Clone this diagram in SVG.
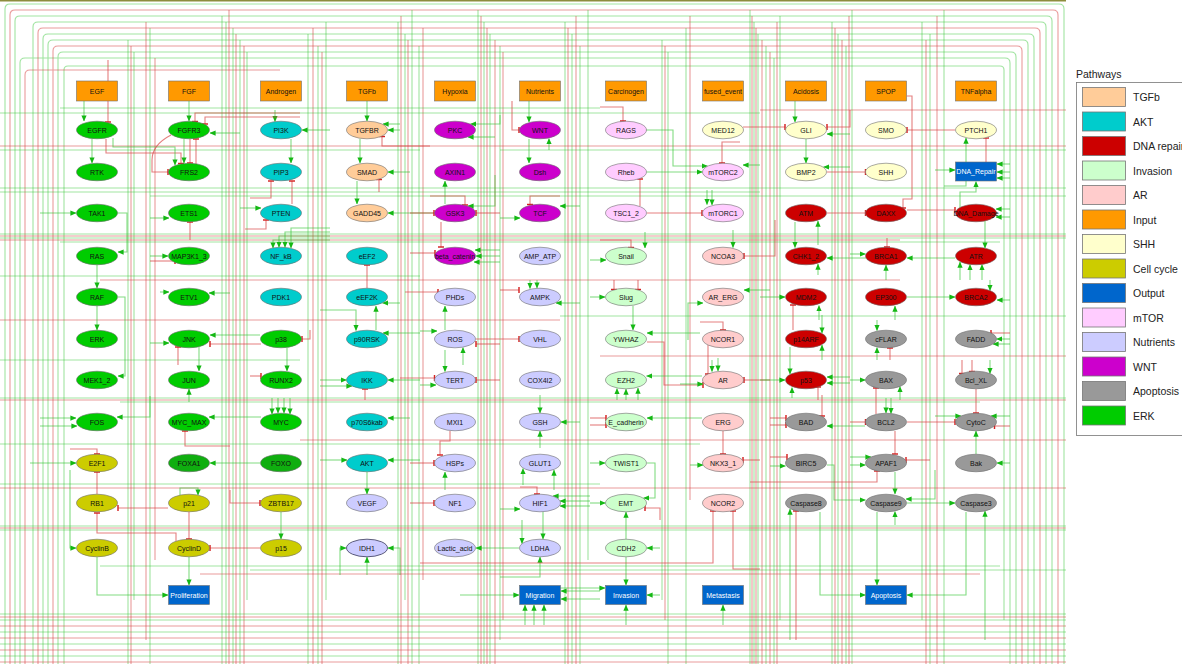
<svg xmlns="http://www.w3.org/2000/svg" width="1182" height="664" viewBox="0 0 1182 664">
<defs>
<style>
text{font-family:"Liberation Sans",Arial,Helvetica,sans-serif;font-size:7px;text-anchor:middle;fill:#111}
.n ellipse,.n rect{stroke:#6f6f6f;stroke-width:.6}
.erk{fill:#00cc00}.erk2{fill:#0fae0f}.akt{fill:#00cccc}.dna{fill:#cc0000}.inv{fill:#ccffcc}.ar{fill:#ffcccc}.inp{fill:#ff9900}.shh{fill:#ffffcc}.cc{fill:#cccc00}.out{fill:#0066cc}.mtor{fill:#ffccff}.nut{fill:#ccccff}.wnt{fill:#cc00cc}.apo{fill:#999999}.tgf{fill:#ffcc99}
.wt{fill:#fff}
.g{fill:none;stroke:#2ec42e;stroke-opacity:.45;stroke-width:1.1}
.r{fill:none;stroke:#d63a3a;stroke-opacity:.5;stroke-width:1.1}
.a{fill:none;stroke:#2ec42e;stroke-opacity:.6;stroke-width:1.1;marker-end:url(#ah)}
.i{fill:none;stroke:#d63a3a;stroke-opacity:.65;stroke-width:1.1;marker-end:url(#tb)}
.lg text{font-size:10.5px;text-anchor:start;fill:#222}
.lg rect{stroke:#777;stroke-width:.8}
</style>
<marker id="ah" viewBox="0 0 8 8" refX="7.5" refY="4" markerWidth="6" markerHeight="6" markerUnits="userSpaceOnUse" orient="auto"><path d="M0,0.5L8,4L0,7.5z" fill="#14b814"/></marker>
<marker id="tb" viewBox="0 0 4 10" refX="2" refY="5" markerWidth="2.4" markerHeight="7" markerUnits="userSpaceOnUse" orient="auto"><path d="M2,0V10" stroke="#d42020" stroke-width="2.4"/></marker>
</defs>
<rect width="1182" height="664" fill="#fff"/>
<path d="M0 0.7H1066" stroke="#8d8d3d" stroke-width="1.4"/>
<g id="connectors">
<g id="bundles">
<path class="g" d="M5 664V9Q5 4 10 4H1059Q1064 4 1064 9V664M15 664V21Q15 16 20 16H1047Q1052 16 1052 21V664M33 664V27Q33 22 38 22H1041Q1046 22 1046 27V664M43 664V39Q43 34 48 34H1029Q1034 34 1034 39V664M48 664V45Q48 40 53 40H1023Q1028 40 1028 45V664M58 664V57Q58 52 63 52H1011Q1016 52 1016 57V664M20 664V63Q20 58 25 58H1005Q1010 58 1010 63V664M64 664V70Q64 66 68 66H1000Q1004 66 1004 70V620"/>
<path class="r" d="M10 664V15Q10 10 15 10H1053Q1058 10 1058 15V664M38 664V33Q38 28 43 28H1035Q1040 28 1040 33V664M53 664V51Q53 46 58 46H1017Q1022 46 1022 51V664M25 664V75Q25 70 30 70H280"/>
<path class="g" d="M222 16V664M226 22V664M233 28V664M240 40V664M247 52V600M398 22V664M405 34V600M412 10V664M419 46V664M478 10V664M484 22V664M490 34V664M500 46V640M565 22V664M572 34V664M580 46V664M588 10V560M662 40V600M668 52V664M686 28V664M750 10V664M754 22V664M758 34V664M766 46V664M774 58V664M780 16V620M832 22V664M838 34V664M846 46V664M852 10V664M922 22V620M930 34V664M944 10V664M128 40V664M134 52V600M150 28V664M308 34V664M318 46V664M326 22V600"/>
<path class="r" d="M229 10V664M236 34V664M244 46V664M401 16V664M408 40V664M423 28V580M481 16V664M487 28V664M495 40V664M503 52V620M568 28V664M576 16V664M665 46V620M690 16V500M752 16V664M756 28V664M762 40V664M770 52V664M777 22V664M835 28V664M842 40V664M849 16V664M926 40V664M937 16V664M131 46V664M146 22V640M155 58V560M313 28V664M322 52V664"/>
<path class="g" d="M0 188H1066M0 192H760M150 196H1066M0 234H1066M0 238H1066M60 242H1000M0 398H1066M120 402H980M0 526H1066M0 530H1066M100 566H1000M0 614H1066M0 620H1066M0 632H1066M0 644H1066M0 656H1066M0 150H420M500 150H1066M0 276H420M560 316H1066M0 444H700M0 484H600M250 570H1066M0 113H760M0 360H300M60 108H600"/>
<path class="r" d="M0 146H1066M0 236H1066M0 240H900M0 400H1066M0 528H1066M0 617H1066M0 626H1066M0 638H1066M0 650H1066M0 662H1066M100 280H900M300 440H1066M0 488H1066M200 574H980M0 320H560M600 356H1066M760 110H1066"/>
</g>
<g id="edges">
<path class="a" d="M84 101V121"/><path class="i" d="M108 60V122"/><path class="a" d="M92 139V163"/>
<path class="i" d="M106 139V153H181V163.5"/><path class="a" d="M113 138V147H175V165"/>
<path class="a" d="M40 213H76"/><path class="a" d="M117 213H127V252H118"/><path class="a" d="M97 265V288"/><path class="a" d="M97 306V330"/>
<path class="a" d="M118 297H125V376H118"/><path class="a" d="M40 418H76"/><path class="a" d="M40 426H77"/><path class="a" d="M150 396V417H117"/>
<path class="a" d="M30 463H76"/><path class="i" d="M70 449H97V454"/><path class="i" d="M97 494V472"/><path class="i" d="M176 541V533H97V513"/>
<path class="a" d="M70 470V548H76"/><path class="i" d="M168 508H118"/><path class="a" d="M97 557V595H168"/><path class="a" d="M189 557V585"/>
<path class="i" d="M189 512V539"/><path class="i" d="M260 548H210"/><path class="a" d="M281 512V539"/><path class="i" d="M230 490V503H260"/>
<path class="a" d="M260 463H210"/><path class="a" d="M180 496V488H198V495"/><path class="a" d="M261 417H209"/><path class="i" d="M230 446H185V431"/>
<path class="a" d="M199 347V371"/><path class="a" d="M189 402V389"/><path class="a" d="M260 335H210"/><path class="i" d="M261 344H210"/>
<path class="a" d="M287 348V371"/><path class="a" d="M272 398V414"/><path class="a" d="M278 398V413"/><path class="a" d="M284 398V413"/><path class="a" d="M290 398V414"/>
<path class="i" d="M310 330V339H302"/><path class="i" d="M250 376H261"/><path class="a" d="M291 139V163"/><path class="i" d="M292 204V181"/>
<path class="i" d="M250 198H271V181"/><path class="a" d="M240 208H261"/><path class="i" d="M245 229H266V220"/>
<path class="a" d="M330 240H273V248"/><path class="a" d="M330 236H279V247.3"/><path class="a" d="M330 232H285V247.4"/><path class="a" d="M330 228H291V248"/>
<path class="a" d="M330 130H302"/><path class="a" d="M275 110V121.5"/><path class="a" d="M240 133H210"/><path class="a" d="M189 101V121"/>
<path class="i" d="M300 113H195V121.5"/><path class="i" d="M300 117H205V124"/><path class="a" d="M184 139V163"/><path class="i" d="M196 164V139"/><path class="i" d="M190 139V163"/>
<path class="i" d="M171 135Q152 145 152 160V172H168"/><path class="i" d="M190 240V222"/><path class="a" d="M150 218H169"/><path class="a" d="M150 256H168"/>
<path class="i" d="M150 261H175"/><path class="a" d="M160 292H169"/><path class="a" d="M230 293H209"/><path class="a" d="M150 343H169"/><path class="i" d="M178 365V347"/>
<path class="a" d="M367 101V121"/><path class="a" d="M360 139V163"/><path class="a" d="M357 181V204"/><path class="a" d="M400 130H388"/><path class="a" d="M400 124H383"/>
<path class="i" d="M430 146H382V136.5"/><path class="a" d="M410 172H388"/><path class="i" d="M379 192V179.5"/><path class="a" d="M434 213H388"/>
<path class="i" d="M367 288V265"/><path class="a" d="M376 330V306"/><path class="a" d="M400 303H382.5"/><path class="a" d="M320 310H356V330.5"/><path class="a" d="M420 333H383"/>
<path class="a" d="M320 380H346.5"/><path class="a" d="M320 386H352"/><path class="i" d="M365 400V389"/><path class="a" d="M420 380H388"/><path class="a" d="M410 418H388"/>
<path class="a" d="M320 460H347"/><path class="a" d="M420 460H388"/><path class="a" d="M367 472V494"/><path class="a" d="M367 575V557"/><path class="a" d="M340 575V548H346"/><path class="a" d="M400 575V548H388"/>
<path class="a" d="M500 115V124H470.5"/><path class="a" d="M495 137H468"/><path class="a" d="M445 204V181"/><path class="i" d="M441 222V247"/>
<path class="i" d="M410 213H434"/><path class="i" d="M500 213H476"/><path class="a" d="M495 175V206H468"/><path class="i" d="M410 253H435"/>
<path class="a" d="M500 250H475"/><path class="a" d="M500 256H476"/><path class="a" d="M500 262H474"/><path class="i" d="M405 292H438"/>
<path class="a" d="M445 330V306"/><path class="i" d="M476 339H519"/><path class="i" d="M500 344H476"/><path class="a" d="M420 331H437"/><path class="a" d="M463 365V347.5"/>
<path class="a" d="M445 350V371.5"/><path class="i" d="M400 378H434.5"/><path class="a" d="M420 385H436"/><path class="i" d="M500 380H476"/>
<path class="i" d="M450 431V441H440V455"/><path class="i" d="M410 463H434"/><path class="a" d="M445 490V472"/><path class="i" d="M410 503H434"/><path class="a" d="M519 548H476"/>
<path class="a" d="M529 101V122"/><path class="i" d="M512 101V130H519"/><path class="a" d="M529 139V163"/><path class="a" d="M549 150V138.5"/>
<path class="i" d="M430 196H465V205"/><path class="i" d="M560 196H530V204.5"/><path class="a" d="M580 206H560"/><path class="a" d="M500 218H520"/>
<path class="i" d="M500 290H519"/><path class="a" d="M530 280V288.5"/><path class="a" d="M537 280V288"/><path class="a" d="M580 303H556"/>
<path class="a" d="M540 395V413"/><path class="a" d="M540 448V431"/><path class="a" d="M580 422H561"/><path class="a" d="M523 485V468.5"/><path class="a" d="M554 490V470"/>
<path class="i" d="M520 487H537V494"/><path class="a" d="M590 496H553"/><path class="a" d="M590 501H560"/><path class="a" d="M590 506H560"/><path class="a" d="M500 509H520"/>
<path class="a" d="M543 512V539"/><path class="a" d="M522 520V543.5"/><path class="a" d="M500 577H540V557"/><path class="a" d="M460 595H519"/>
<path class="a" d="M600 591H561"/><path class="a" d="M600 599H561"/><path class="a" d="M525 625V605"/><path class="a" d="M534 625V605"/><path class="a" d="M544 625V605"/>
<path class="i" d="M600 107H623V121"/><path class="a" d="M646 130H673V166H707.5"/><path class="a" d="M646.5 172H702.5"/><path class="i" d="M640 206V179"/>
<path class="i" d="M647 213H702"/><path class="a" d="M707 190V204.5"/><path class="a" d="M712 190V205"/><path class="i" d="M740 142H722V163"/><path class="a" d="M760 165H743"/>
<path class="i" d="M600 240H631V247.5"/><path class="a" d="M645 232V248"/><path class="a" d="M590 260H606"/><path class="i" d="M614 280V289.5"/><path class="i" d="M638 280V289.5"/>
<path class="a" d="M590 297H605"/><path class="a" d="M633 306V330"/><path class="a" d="M700 333H647"/><path class="i" d="M647 342H664V385H703"/><path class="a" d="M702 376H646.5"/>
<path class="a" d="M617 400V388.5"/><path class="a" d="M626 400V389"/><path class="a" d="M638 400V388"/><path class="i" d="M590 418H606"/><path class="i" d="M590 425H606"/>
<path class="a" d="M702 418H647"/><path class="a" d="M590 463H605"/><path class="a" d="M647 463H655V498H643.5"/><path class="i" d="M660 520V508H645"/>
<path class="a" d="M626 539V512"/><path class="a" d="M626 557V585"/><path class="a" d="M660 548H647"/><path class="a" d="M590 503H605.5"/><path class="a" d="M560 588H605"/>
<path class="a" d="M660 595H647"/><path class="a" d="M626 625V605"/>
<path class="i" d="M743 127H785"/><path class="i" d="M775 220V256H744"/><path class="a" d="M733 230V247.5"/><path class="a" d="M770 290H744"/><path class="a" d="M688 340V303H703"/>
<path class="i" d="M708 345V374"/><path class="i" d="M700 322H723V330"/><path class="a" d="M712 360V371.5"/><path class="a" d="M718 358V371"/><path class="i" d="M770 380H744"/>
<path class="a" d="M680 384H703"/><path class="i" d="M723 431V454"/><path class="a" d="M690 465H703"/><path class="i" d="M760 460H743"/>
<path class="i" d="M420 563H713V511"/><path class="i" d="M760 569H733V511"/><path class="a" d="M723 625V605"/>
<path class="a" d="M795 101V122"/><path class="a" d="M806 139V163"/><path class="i" d="M850 110V127H827"/><path class="a" d="M850 134H827"/><path class="i" d="M827 172H865.5"/>
<path class="a" d="M850 167H823.5"/><path class="i" d="M827 213H865.5"/><path class="a" d="M795 222V247.5"/><path class="a" d="M818 245V221"/><path class="a" d="M866 258H827"/>
<path class="a" d="M818 275V264"/><path class="a" d="M819 320V305.5"/><path class="i" d="M793 330V305"/><path class="a" d="M760 297H785"/><path class="a" d="M822 315V333"/>
<path class="a" d="M822 360V345"/><path class="a" d="M790 347V374"/><path class="a" d="M760 380H785"/><path class="a" d="M850 377H827"/><path class="a" d="M850 383H827"/>
<path class="i" d="M818 400V387"/><path class="a" d="M792 398V387.5"/><path class="i" d="M822 395V416"/><path class="i" d="M770 418H786"/><path class="i" d="M770 425H786"/>
<path class="a" d="M865 426H827"/><path class="a" d="M770 466H785.5"/><path class="i" d="M770 457H787"/><path class="a" d="M827 465H834V500H865.5"/>
<path class="a" d="M820 512V595H865.5"/><path class="a" d="M790 640V509"/><path class="i" d="M796 640V511"/>
<path class="i" d="M907 96H912V199H903V208"/><path class="i" d="M955 130H907"/><path class="a" d="M944 186H966V138"/><path class="i" d="M986 162V138"/>
<path class="i" d="M907 210H955"/><path class="a" d="M960 207.5V192H976V181.5"/><path class="a" d="M935 170H955"/><path class="a" d="M1010 164H997"/>
<path class="a" d="M1010 172H997"/><path class="a" d="M1010 178H997"/><path class="a" d="M985 221V248"/><path class="a" d="M1010 209H996"/><path class="a" d="M1010 217H996"/>
<path class="a" d="M955 258H907"/><path class="a" d="M960 280V262"/><path class="a" d="M970 280V264.5"/><path class="a" d="M982 280V264.5"/><path class="i" d="M887 238V247"/>
<path class="a" d="M850 254H865.5"/><path class="a" d="M886 280V265"/><path class="a" d="M907 297H955"/><path class="a" d="M895 320V306"/><path class="a" d="M1010 300H997"/>
<path class="a" d="M990 280V290.5"/><path class="a" d="M877 320V330.5"/><path class="a" d="M877 360V347.5"/><path class="i" d="M890 360V348"/><path class="i" d="M1010 333H991"/>
<path class="a" d="M1010 339H996.5"/><path class="a" d="M1010 344H993"/><path class="a" d="M850 380H865.5"/><path class="a" d="M900 400V386.5"/>
<path class="i" d="M962 360V373.5"/><path class="i" d="M972 360V371.5"/><path class="a" d="M990 360V373.5"/><path class="i" d="M976 389V413"/>
<path class="i" d="M876 414V388"/><path class="a" d="M886 398V413"/><path class="a" d="M891 398V413.5"/><path class="i" d="M850 422H865.5"/><path class="i" d="M907 422H955"/>
<path class="i" d="M895 431V454"/><path class="a" d="M895 472V494"/><path class="i" d="M750 482H877V471"/><path class="a" d="M850 457H871"/><path class="a" d="M850 465H865.5"/>
<path class="i" d="M930 460H906"/><path class="a" d="M907 503H955"/><path class="a" d="M935 470V499H906"/><path class="a" d="M877 512V585"/><path class="a" d="M895 525V511.5"/>
<path class="a" d="M966 512V595H907"/><path class="a" d="M985 640V511"/><path class="a" d="M976 454V431"/><path class="a" d="M1010 463H997"/>
<path class="a" d="M935 416H961"/><path class="a" d="M1010 416H991"/><path class="i" d="M1010 426H994.5"/>
</g>
</g>
<g id="nodes" class="n">
<g id="n_EGF"><rect class="inp" x="76.5" y="81" width="41" height="20"/><text x="97" y="93.5">EGF</text></g>
<g id="n_FGF"><rect class="inp" x="168.5" y="81" width="41" height="20"/><text x="189" y="93.5">FGF</text></g>
<g id="n_Androgen"><rect class="inp" x="260.5" y="81" width="41" height="20"/><text x="281" y="93.5">Androgen</text></g>
<g id="n_TGFb"><rect class="inp" x="346.5" y="81" width="41" height="20"/><text x="367" y="93.5">TGFb</text></g>
<g id="n_Hypoxia"><rect class="inp" x="434.5" y="81" width="41" height="20"/><text x="455" y="93.5">Hypoxia</text></g>
<g id="n_Nutrients"><rect class="inp" x="519.5" y="81" width="41" height="20"/><text x="540" y="93.5">Nutrients</text></g>
<g id="n_Carcinogen"><rect class="inp" x="605.5" y="81" width="41" height="20"/><text x="626" y="93.5">Carcinogen</text></g>
<g id="n_fused_event"><rect class="inp" x="702.5" y="81" width="41" height="20"/><text x="723" y="93.5">fused_event</text></g>
<g id="n_Acidosis"><rect class="inp" x="785.5" y="81" width="41" height="20"/><text x="806" y="93.5">Acidosis</text></g>
<g id="n_SPOP"><rect class="inp" x="865.5" y="81" width="41" height="20"/><text x="886" y="93.5">SPOP</text></g>
<g id="n_TNFalpha"><rect class="inp" x="955.5" y="81" width="41" height="20"/><text x="976" y="93.5">TNFalpha</text></g>

<g id="n_EGFR"><ellipse class="erk" cx="97" cy="130" rx="20.5" ry="8.8"/><text x="97" y="132.5">EGFR</text></g>
<g id="n_FGFR3"><ellipse class="erk" cx="189" cy="130" rx="20.5" ry="8.8"/><text x="189" y="132.5">FGFR3</text></g>
<g id="n_PI3K"><ellipse class="akt" cx="281" cy="130" rx="20.5" ry="8.8"/><text x="281" y="132.5">PI3K</text></g>
<g id="n_TGFBR"><ellipse class="tgf" cx="367" cy="130" rx="20.5" ry="8.8"/><text x="367" y="132.5">TGFBR</text></g>
<g id="n_PKC"><ellipse class="wnt" cx="455" cy="130" rx="20.5" ry="8.8"/><text x="455" y="132.5">PKC</text></g>
<g id="n_WNT"><ellipse class="wnt" cx="540" cy="130" rx="20.5" ry="8.8"/><text x="540" y="132.5">WNT</text></g>
<g id="n_RAGS"><ellipse class="mtor" cx="626" cy="130" rx="20.5" ry="8.8"/><text x="626" y="132.5">RAGS</text></g>
<g id="n_MED12"><ellipse class="shh" cx="723" cy="130" rx="20.5" ry="8.8"/><text x="723" y="132.5">MED12</text></g>
<g id="n_GLI"><ellipse class="shh" cx="806" cy="130" rx="20.5" ry="8.8"/><text x="806" y="132.5">GLI</text></g>
<g id="n_SMO"><ellipse class="shh" cx="886" cy="130" rx="20.5" ry="8.8"/><text x="886" y="132.5">SMO</text></g>
<g id="n_PTCH1"><ellipse class="shh" cx="976" cy="130" rx="20.5" ry="8.8"/><text x="976" y="132.5">PTCH1</text></g>

<g id="n_RTK"><ellipse class="erk" cx="97" cy="172" rx="20.5" ry="8.8"/><text x="97" y="174.5">RTK</text></g>
<g id="n_FRS2"><ellipse class="erk" cx="189" cy="172" rx="20.5" ry="8.8"/><text x="189" y="174.5">FRS2</text></g>
<g id="n_PIP3"><ellipse class="akt" cx="281" cy="172" rx="20.5" ry="8.8"/><text x="281" y="174.5">PIP3</text></g>
<g id="n_SMAD"><ellipse class="tgf" cx="367" cy="172" rx="20.5" ry="8.8"/><text x="367" y="174.5">SMAD</text></g>
<g id="n_AXIN1"><ellipse class="wnt" cx="455" cy="172" rx="20.5" ry="8.8"/><text x="455" y="174.5">AXIN1</text></g>
<g id="n_Dsh"><ellipse class="wnt" cx="540" cy="172" rx="20.5" ry="8.8"/><text x="540" y="174.5">Dsh</text></g>
<g id="n_Rheb"><ellipse class="mtor" cx="626" cy="172" rx="20.5" ry="8.8"/><text x="626" y="174.5">Rheb</text></g>
<g id="n_mTORC2"><ellipse class="mtor" cx="723" cy="172" rx="20.5" ry="8.8"/><text x="723" y="174.5">mTORC2</text></g>
<g id="n_BMP2"><ellipse class="shh" cx="806" cy="172" rx="20.5" ry="8.8"/><text x="806" y="174.5">BMP2</text></g>
<g id="n_SHH"><ellipse class="shh" cx="886" cy="172" rx="20.5" ry="8.8"/><text x="886" y="174.5">SHH</text></g>
<g id="n_DNA_Repair"><rect class="out" x="955.5" y="162" width="41" height="19"/><text class="wt" x="976" y="174">DNA_Repair</text></g>

<g id="n_TAK1"><ellipse class="erk" cx="97" cy="213" rx="20.5" ry="8.8"/><text x="97" y="215.5">TAK1</text></g>
<g id="n_ETS1"><ellipse class="erk" cx="189" cy="213" rx="20.5" ry="8.8"/><text x="189" y="215.5">ETS1</text></g>
<g id="n_PTEN"><ellipse class="akt" cx="281" cy="213" rx="20.5" ry="8.8"/><text x="281" y="215.5">PTEN</text></g>
<g id="n_GADD45"><ellipse class="tgf" cx="367" cy="213" rx="20.5" ry="8.8"/><text x="367" y="215.5">GADD45</text></g>
<g id="n_GSK3"><ellipse class="wnt" cx="455" cy="213" rx="20.5" ry="8.8"/><text x="455" y="215.5">GSK3</text></g>
<g id="n_TCF"><ellipse class="wnt" cx="540" cy="213" rx="20.5" ry="8.8"/><text x="540" y="215.5">TCF</text></g>
<g id="n_TSC1_2"><ellipse class="mtor" cx="626" cy="213" rx="20.5" ry="8.8"/><text x="626" y="215.5">TSC1_2</text></g>
<g id="n_mTORC1"><ellipse class="mtor" cx="723" cy="213" rx="20.5" ry="8.8"/><text x="723" y="215.5">mTORC1</text></g>
<g id="n_ATM"><ellipse class="dna" cx="806" cy="213" rx="20.5" ry="8.8"/><text x="806" y="215.5">ATM</text></g>
<g id="n_DAXX"><ellipse class="dna" cx="886" cy="213" rx="20.5" ry="8.8"/><text x="886" y="215.5">DAXX</text></g>
<g id="n_DNA_Damage"><ellipse class="dna" cx="976" cy="213" rx="20.5" ry="8.8"/><text x="976" y="215.5">DNA_Damage</text></g>

<g id="n_RAS"><ellipse class="erk" cx="97" cy="256" rx="20.5" ry="8.8"/><text x="97" y="258.5">RAS</text></g>
<g id="n_MAP3K1_3"><ellipse class="erk" cx="189" cy="256" rx="20.5" ry="8.8"/><text x="189" y="258.5">MAP3K1_3</text></g>
<g id="n_NF_kB"><ellipse class="akt" cx="281" cy="256" rx="20.5" ry="8.8"/><text x="281" y="258.5">NF_kB</text></g>
<g id="n_eEF2"><ellipse class="akt" cx="367" cy="256" rx="20.5" ry="8.8"/><text x="367" y="258.5">eEF2</text></g>
<g id="n_beta_catenin"><ellipse class="wnt" cx="455" cy="256" rx="20.5" ry="8.8"/><text x="455" y="258.5">beta_catenin</text></g>
<g id="n_AMP_ATP"><ellipse class="nut" cx="540" cy="256" rx="20.5" ry="8.8"/><text x="540" y="258.5">AMP_ATP</text></g>
<g id="n_Snail"><ellipse class="inv" cx="626" cy="256" rx="20.5" ry="8.8"/><text x="626" y="258.5">Snail</text></g>
<g id="n_NCOA3"><ellipse class="ar" cx="723" cy="256" rx="20.5" ry="8.8"/><text x="723" y="258.5">NCOA3</text></g>
<g id="n_CHK1_2"><ellipse class="dna" cx="806" cy="256" rx="20.5" ry="8.8"/><text x="806" y="258.5">CHK1_2</text></g>
<g id="n_BRCA1"><ellipse class="dna" cx="886" cy="256" rx="20.5" ry="8.8"/><text x="886" y="258.5">BRCA1</text></g>
<g id="n_ATR"><ellipse class="dna" cx="976" cy="256" rx="20.5" ry="8.8"/><text x="976" y="258.5">ATR</text></g>

<g id="n_RAF"><ellipse class="erk" cx="97" cy="297" rx="20.5" ry="8.8"/><text x="97" y="299.5">RAF</text></g>
<g id="n_ETV1"><ellipse class="erk" cx="189" cy="297" rx="20.5" ry="8.8"/><text x="189" y="299.5">ETV1</text></g>
<g id="n_PDK1"><ellipse class="akt" cx="281" cy="297" rx="20.5" ry="8.8"/><text x="281" y="299.5">PDK1</text></g>
<g id="n_eEF2K"><ellipse class="akt" cx="367" cy="297" rx="20.5" ry="8.8"/><text x="367" y="299.5">eEF2K</text></g>
<g id="n_PHDs"><ellipse class="nut" cx="455" cy="297" rx="20.5" ry="8.8"/><text x="455" y="299.5">PHDs</text></g>
<g id="n_AMPK"><ellipse class="nut" cx="540" cy="297" rx="20.5" ry="8.8"/><text x="540" y="299.5">AMPK</text></g>
<g id="n_Slug"><ellipse class="inv" cx="626" cy="297" rx="20.5" ry="8.8"/><text x="626" y="299.5">Slug</text></g>
<g id="n_AR_ERG"><ellipse class="ar" cx="723" cy="297" rx="20.5" ry="8.8"/><text x="723" y="299.5">AR_ERG</text></g>
<g id="n_MDM2"><ellipse class="dna" cx="806" cy="297" rx="20.5" ry="8.8"/><text x="806" y="299.5">MDM2</text></g>
<g id="n_EP300"><ellipse class="dna" cx="886" cy="297" rx="20.5" ry="8.8"/><text x="886" y="299.5">EP300</text></g>
<g id="n_BRCA2"><ellipse class="dna" cx="976" cy="297" rx="20.5" ry="8.8"/><text x="976" y="299.5">BRCA2</text></g>

<g id="n_ERK"><ellipse class="erk" cx="97" cy="339" rx="20.5" ry="8.8"/><text x="97" y="341.5">ERK</text></g>
<g id="n_JNK"><ellipse class="erk" cx="189" cy="339" rx="20.5" ry="8.8"/><text x="189" y="341.5">JNK</text></g>
<g id="n_p38"><ellipse class="erk" cx="281" cy="339" rx="20.5" ry="8.8"/><text x="281" y="341.5">p38</text></g>
<g id="n_p90RSK"><ellipse class="akt" cx="367" cy="339" rx="20.5" ry="8.8"/><text x="367" y="341.5">p90RSK</text></g>
<g id="n_ROS"><ellipse class="nut" cx="455" cy="339" rx="20.5" ry="8.8"/><text x="455" y="341.5">ROS</text></g>
<g id="n_VHL"><ellipse class="nut" cx="540" cy="339" rx="20.5" ry="8.8"/><text x="540" y="341.5">VHL</text></g>
<g id="n_YWHAZ"><ellipse class="inv" cx="626" cy="339" rx="20.5" ry="8.8"/><text x="626" y="341.5">YWHAZ</text></g>
<g id="n_NCOR1"><ellipse class="ar" cx="723" cy="339" rx="20.5" ry="8.8"/><text x="723" y="341.5">NCOR1</text></g>
<g id="n_p14ARF"><ellipse class="dna" cx="806" cy="339" rx="20.5" ry="8.8"/><text x="806" y="341.5">p14ARF</text></g>
<g id="n_cFLAR"><ellipse class="apo" cx="886" cy="339" rx="20.5" ry="8.8"/><text x="886" y="341.5">cFLAR</text></g>
<g id="n_FADD"><ellipse class="apo" cx="976" cy="339" rx="20.5" ry="8.8"/><text x="976" y="341.5">FADD</text></g>

<g id="n_MEK1_2"><ellipse class="erk" cx="97" cy="380" rx="20.5" ry="8.8"/><text x="97" y="382.5">MEK1_2</text></g>
<g id="n_JUN"><ellipse class="erk" cx="189" cy="380" rx="20.5" ry="8.8"/><text x="189" y="382.5">JUN</text></g>
<g id="n_RUNX2"><ellipse class="erk" cx="281" cy="380" rx="20.5" ry="8.8"/><text x="281" y="382.5">RUNX2</text></g>
<g id="n_IKK"><ellipse class="akt" cx="367" cy="380" rx="20.5" ry="8.8"/><text x="367" y="382.5">IKK</text></g>
<g id="n_TERT"><ellipse class="nut" cx="455" cy="380" rx="20.5" ry="8.8"/><text x="455" y="382.5">TERT</text></g>
<g id="n_COX4I2"><ellipse class="nut" cx="540" cy="380" rx="20.5" ry="8.8"/><text x="540" y="382.5">COX4I2</text></g>
<g id="n_EZH2"><ellipse class="inv" cx="626" cy="380" rx="20.5" ry="8.8"/><text x="626" y="382.5">EZH2</text></g>
<g id="n_AR"><ellipse class="ar" cx="723" cy="380" rx="20.5" ry="8.8"/><text x="723" y="382.5">AR</text></g>
<g id="n_p53"><ellipse class="dna" cx="806" cy="380" rx="20.5" ry="8.8"/><text x="806" y="382.5">p53</text></g>
<g id="n_BAX"><ellipse class="apo" cx="886" cy="380" rx="20.5" ry="8.8"/><text x="886" y="382.5">BAX</text></g>
<g id="n_Bcl_XL"><ellipse class="apo" cx="976" cy="380" rx="20.5" ry="8.8"/><text x="976" y="382.5">Bcl_XL</text></g>

<g id="n_FOS"><ellipse class="erk" cx="97" cy="422" rx="20.5" ry="8.8"/><text x="97" y="424.5">FOS</text></g>
<g id="n_MYC_MAX"><ellipse class="erk" cx="189" cy="422" rx="20.5" ry="8.8"/><text x="189" y="424.5">MYC_MAX</text></g>
<g id="n_MYC"><ellipse class="erk" cx="281" cy="422" rx="20.5" ry="8.8"/><text x="281" y="424.5">MYC</text></g>
<g id="n_p70S6kab"><ellipse class="akt" cx="367" cy="422" rx="20.5" ry="8.8"/><text x="367" y="424.5">p70S6kab</text></g>
<g id="n_MXI1"><ellipse class="nut" cx="455" cy="422" rx="20.5" ry="8.8"/><text x="455" y="424.5">MXI1</text></g>
<g id="n_GSH"><ellipse class="nut" cx="540" cy="422" rx="20.5" ry="8.8"/><text x="540" y="424.5">GSH</text></g>
<g id="n_E_cadherin"><ellipse class="inv" cx="626" cy="422" rx="20.5" ry="8.8"/><text x="626" y="424.5">E_cadherin</text></g>
<g id="n_ERG"><ellipse class="ar" cx="723" cy="422" rx="20.5" ry="8.8"/><text x="723" y="424.5">ERG</text></g>
<g id="n_BAD"><ellipse class="apo" cx="806" cy="422" rx="20.5" ry="8.8"/><text x="806" y="424.5">BAD</text></g>
<g id="n_BCL2"><ellipse class="apo" cx="886" cy="422" rx="20.5" ry="8.8"/><text x="886" y="424.5">BCL2</text></g>
<g id="n_CytoC"><ellipse class="apo" cx="976" cy="422" rx="20.5" ry="8.8"/><text x="976" y="424.5">CytoC</text></g>

<g id="n_E2F1"><ellipse class="cc" cx="97" cy="463" rx="20.5" ry="8.8"/><text x="97" y="465.5">E2F1</text></g>
<g id="n_FOXA1"><ellipse class="erk2" cx="189" cy="463" rx="20.5" ry="8.8"/><text x="189" y="465.5">FOXA1</text></g>
<g id="n_FOXO"><ellipse class="erk2" cx="281" cy="463" rx="20.5" ry="8.8"/><text x="281" y="465.5">FOXO</text></g>
<g id="n_AKT"><ellipse class="akt" cx="367" cy="463" rx="20.5" ry="8.8"/><text x="367" y="465.5">AKT</text></g>
<g id="n_HSPs"><ellipse class="nut" cx="455" cy="463" rx="20.5" ry="8.8"/><text x="455" y="465.5">HSPs</text></g>
<g id="n_GLUT1"><ellipse class="nut" cx="540" cy="463" rx="20.5" ry="8.8"/><text x="540" y="465.5">GLUT1</text></g>
<g id="n_TWIST1"><ellipse class="inv" cx="626" cy="463" rx="20.5" ry="8.8"/><text x="626" y="465.5">TWIST1</text></g>
<g id="n_NKX3_1"><ellipse class="ar" cx="723" cy="463" rx="20.5" ry="8.8"/><text x="723" y="465.5">NKX3_1</text></g>
<g id="n_BIRC5"><ellipse class="apo" cx="806" cy="463" rx="20.5" ry="8.8"/><text x="806" y="465.5">BIRC5</text></g>
<g id="n_APAF1"><ellipse class="apo" cx="886" cy="463" rx="20.5" ry="8.8"/><text x="886" y="465.5">APAF1</text></g>
<g id="n_Bak"><ellipse class="apo" cx="976" cy="463" rx="20.5" ry="8.8"/><text x="976" y="465.5">Bak</text></g>

<g id="n_RB1"><ellipse class="cc" cx="97" cy="503" rx="20.5" ry="8.8"/><text x="97" y="505.5">RB1</text></g>
<g id="n_p21"><ellipse class="cc" cx="189" cy="503" rx="20.5" ry="8.8"/><text x="189" y="505.5">p21</text></g>
<g id="n_ZBTB17"><ellipse class="cc" cx="281" cy="503" rx="20.5" ry="8.8"/><text x="281" y="505.5">ZBTB17</text></g>
<g id="n_VEGF"><ellipse class="nut" cx="367" cy="503" rx="20.5" ry="8.8"/><text x="367" y="505.5">VEGF</text></g>
<g id="n_NF1"><ellipse class="nut" cx="455" cy="503" rx="20.5" ry="8.8"/><text x="455" y="505.5">NF1</text></g>
<g id="n_HIF1"><ellipse class="nut" cx="540" cy="503" rx="20.5" ry="8.8"/><text x="540" y="505.5">HIF1</text></g>
<g id="n_EMT"><ellipse class="inv" cx="626" cy="503" rx="20.5" ry="8.8"/><text x="626" y="505.5">EMT</text></g>
<g id="n_NCOR2"><ellipse class="ar" cx="723" cy="503" rx="20.5" ry="8.8"/><text x="723" y="505.5">NCOR2</text></g>
<g id="n_Caspase8"><ellipse class="apo" cx="806" cy="503" rx="20.5" ry="8.8"/><text x="806" y="505.5">Caspase8</text></g>
<g id="n_Caspase9"><ellipse class="apo" cx="886" cy="503" rx="20.5" ry="8.8"/><text x="886" y="505.5">Caspase9</text></g>
<g id="n_Caspase3"><ellipse class="apo" cx="976" cy="503" rx="20.5" ry="8.8"/><text x="976" y="505.5">Caspase3</text></g>

<g id="n_CyclinB"><ellipse class="cc" cx="97" cy="548" rx="20.5" ry="8.8"/><text x="97" y="550.5">CyclinB</text></g>
<g id="n_CyclinD"><ellipse class="cc" cx="189" cy="548" rx="20.5" ry="8.8"/><text x="189" y="550.5">CyclinD</text></g>
<g id="n_p15"><ellipse class="cc" cx="281" cy="548" rx="20.5" ry="8.8"/><text x="281" y="550.5">p15</text></g>
<g id="n_IDH1"><ellipse class="nut" cx="367" cy="548" rx="20.5" ry="8.8" style="stroke:#3a3a5a;stroke-width:.8"/><text x="367" y="550.5">IDH1</text></g>
<g id="n_Lactic_acid"><ellipse class="nut" cx="455" cy="548" rx="20.5" ry="8.8"/><text x="455" y="550.5">Lactic_acid</text></g>
<g id="n_LDHA"><ellipse class="nut" cx="540" cy="548" rx="20.5" ry="8.8"/><text x="540" y="550.5">LDHA</text></g>
<g id="n_CDH2"><ellipse class="inv" cx="626" cy="548" rx="20.5" ry="8.8"/><text x="626" y="550.5">CDH2</text></g>

<g id="n_Proliferation"><rect class="out" x="168.5" y="585.5" width="41" height="19"/><text class="wt" x="189" y="597.5">Proliferation</text></g>
<g id="n_Migration"><rect class="out" x="519.5" y="585.5" width="41" height="19"/><text class="wt" x="540" y="597.5">Migration</text></g>
<g id="n_Invasion"><rect class="out" x="605.5" y="585.5" width="41" height="19"/><text class="wt" x="626" y="597.5">Invasion</text></g>
<g id="n_Metastasis"><rect class="out" x="702.5" y="585.5" width="41" height="19"/><text class="wt" x="723" y="597.5">Metastasis</text></g>
<g id="n_Apoptosis"><rect class="out" x="865.5" y="585.5" width="41" height="19"/><text class="wt" x="886" y="597.5">Apoptosis</text></g>
</g>
<g id="legend" class="lg">
<text x="1076" y="78">Pathways</text>
<rect x="1076.5" y="82.5" width="120" height="353" fill="#fff" stroke="#777"/>
<rect class="tgf" x="1082.5" y="87.5" width="43" height="19"/><text x="1133" y="101">TGFb</text>
<rect class="akt" x="1082.5" y="112" width="43" height="19"/><text x="1133" y="125.5">AKT</text>
<rect class="dna" x="1082.5" y="136.5" width="43" height="19"/><text x="1133" y="150">DNA repair</text>
<rect class="inv" x="1082.5" y="161" width="43" height="19"/><text x="1133" y="174.5">Invasion</text>
<rect class="ar" x="1082.5" y="185.5" width="43" height="19"/><text x="1133" y="199">AR</text>
<rect class="inp" x="1082.5" y="210" width="43" height="19"/><text x="1133" y="223.5">Input</text>
<rect class="shh" x="1082.5" y="234.5" width="43" height="19"/><text x="1133" y="248">SHH</text>
<rect class="cc" x="1082.5" y="259" width="43" height="19"/><text x="1133" y="272.5">Cell cycle</text>
<rect class="out" x="1082.5" y="283.5" width="43" height="19"/><text x="1133" y="297">Output</text>
<rect class="mtor" x="1082.5" y="308" width="43" height="19"/><text x="1133" y="321.5">mTOR</text>
<rect class="nut" x="1082.5" y="332.5" width="43" height="19"/><text x="1133" y="346">Nutrients</text>
<rect class="wnt" x="1082.5" y="357" width="43" height="19"/><text x="1133" y="370.5">WNT</text>
<rect class="apo" x="1082.5" y="381.5" width="43" height="19"/><text x="1133" y="395">Apoptosis</text>
<rect class="erk" x="1082.5" y="406" width="43" height="19"/><text x="1133" y="419.5">ERK</text>
</g>
</svg>
